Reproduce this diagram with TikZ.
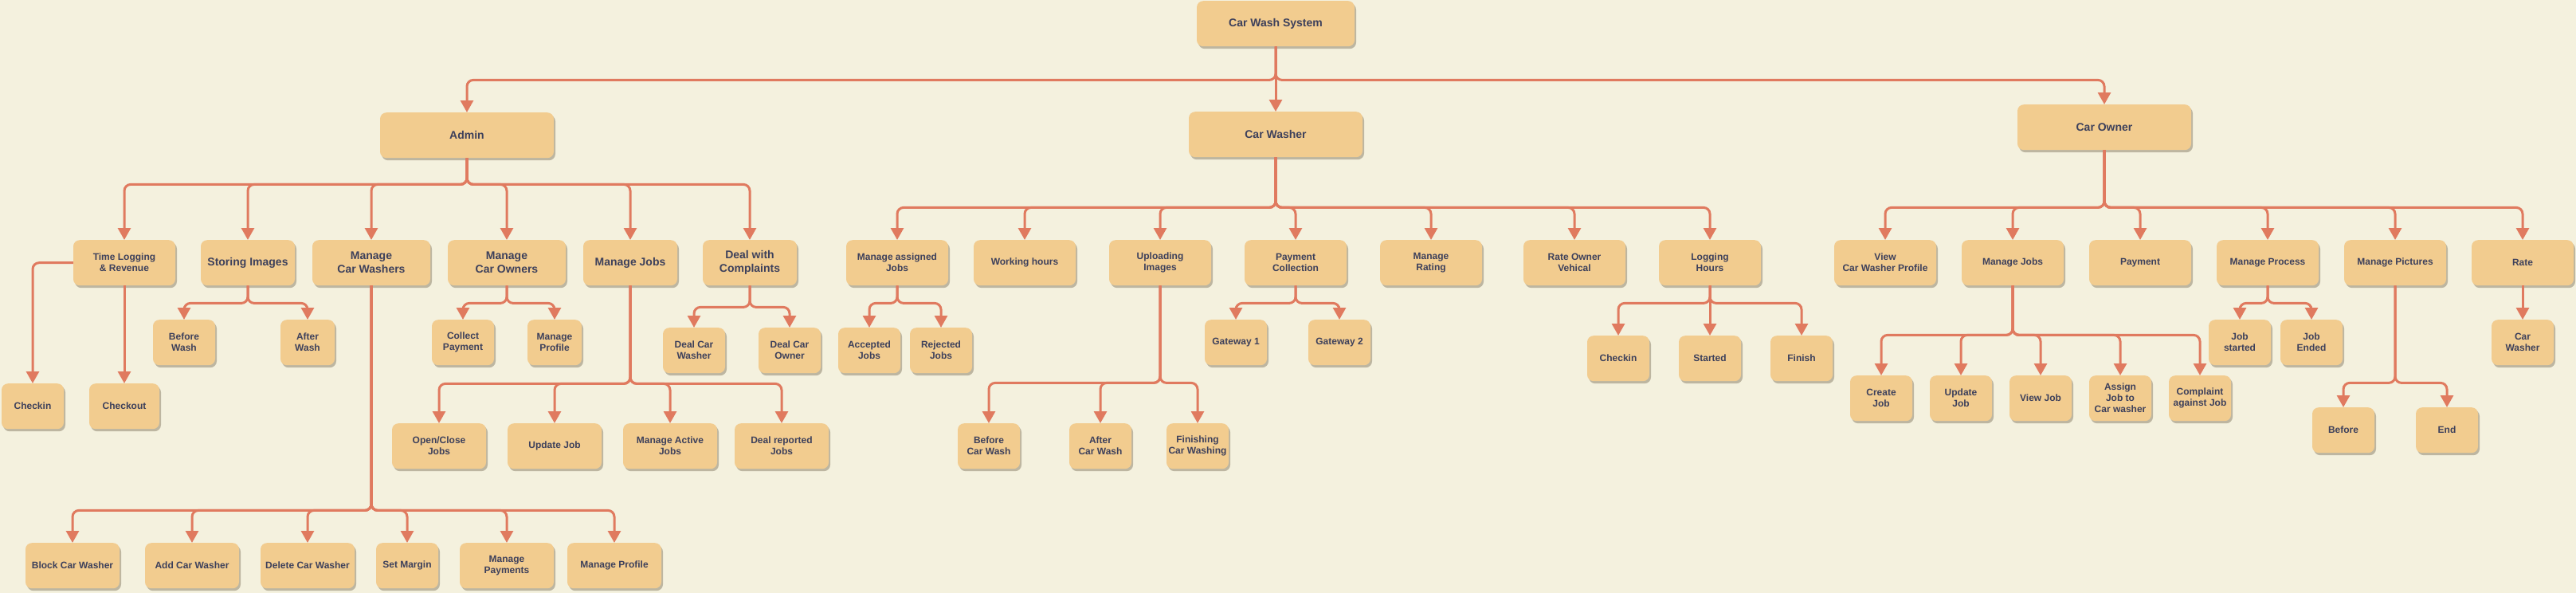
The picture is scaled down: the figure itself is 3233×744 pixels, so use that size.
\documentclass[tikz,border=0pt]{standalone}
\usepackage{fontspec}
\setmainfont{Liberation Sans}
\usetikzlibrary{arrows.meta,shadows}
\definecolor{bgc}{HTML}{F4F1DE}
\definecolor{boxc}{HTML}{F2CC8F}
\definecolor{linec}{HTML}{E07A5F}
\definecolor{txtc}{HTML}{3D405B}
\definecolor{shadowc}{HTML}{BDB6A1}
\begin{document}
\begin{tikzpicture}[x=1pt,y=-1pt,inner sep=2pt,
boxbase/.style={rectangle,rounded corners=8pt,fill=boxc,text=txtc,align=center,anchor=north,minimum height=57pt,
  drop shadow={shadow xshift=2pt,shadow yshift=-3pt,fill=shadowc,opacity=1}},
leafbox/.style={boxbase,minimum width=#1,font=\bfseries\fontsize{12}{14}\selectfont},
leafbox/.default=78pt,
headbox/.style={boxbase,minimum width=#1,font=\bfseries\fontsize{14}{17}\selectfont},
conn/.style={draw=linec,line width=3pt,rounded corners=8pt,-{Triangle[width=16pt,length=15pt]}}]
\fill[bgc] (0,0) rectangle (3233,744);
\useasboundingbox (0,0) rectangle (3233,744);
% top level
\draw (1601,1) node[headbox=198pt] (cws) {Car Wash System};
\draw (586,141) node[headbox=218pt] (adm) {Admin};
\draw (1601,140) node[headbox=218pt] (cw) {Car Washer};
\draw (2641,131) node[headbox=218pt] (cow) {Car Owner};
% admin branch
\draw (156,301) node[leafbox=128pt] (tl) {Time Logging\\\& Revenue};
\draw (311,301) node[headbox=118pt] (si) {Storing Images};
\draw (466,301) node[headbox=148pt] (mcw) {Manage\\Car Washers};
\draw (636,301) node[headbox=148pt] (mco) {Manage\\Car Owners};
\draw (791,301) node[headbox=118pt] (mj) {Manage Jobs};
\draw (941,301) node[headbox=118pt] (dwc) {Deal with\\Complaints};
\draw (41,481) node[leafbox] (ci) {Checkin};
\draw (156,481) node[leafbox=88pt] (cko) {Checkout};
\draw (231,401) node[leafbox] (bw) {Before\\Wash};
\draw (386,401) node[leafbox=68pt] (aw) {After\\Wash};
\draw (581,401) node[leafbox] (cp) {Collect\\Payment};
\draw (696,401) node[leafbox=68pt] (mpf) {Manage\\Profile};
\draw (871,411) node[leafbox] (dcw) {Deal Car\\Washer};
\draw (991,411) node[leafbox] (dco) {Deal Car\\Owner};
\draw (551,531) node[leafbox=118pt] (ocj) {Open/Close\\Jobs};
\draw (696,531) node[leafbox=118pt] (uj) {Update Job};
\draw (841,531) node[leafbox=118pt] (maj) {Manage Active\\Jobs};
\draw (981,531) node[leafbox=118pt] (drj) {Deal reported\\Jobs};
\draw (91,681) node[leafbox=118pt] (bcw) {Block Car Washer};
\draw (241,681) node[leafbox=118pt] (acw) {Add Car Washer};
\draw (386,681) node[leafbox=118pt] (dlcw) {Delete Car Washer};
\draw (511,681) node[leafbox] (sm) {Set Margin};
\draw (636,681) node[leafbox=118pt] (mpay) {Manage\\Payments};
\draw (771,681) node[leafbox=118pt] (mprof) {Manage Profile};
% car washer branch
\draw (1126,301) node[leafbox=128pt] (masj) {Manage assigned\\Jobs};
\draw (1286,301) node[leafbox=128pt] (wh) {Working hours};
\draw (1456,301) node[leafbox=128pt] (ui) {Uploading\\Images};
\draw (1626,301) node[leafbox=128pt] (pc) {Payment\\Collection};
\draw (1796,301) node[leafbox=128pt] (mr) {Manage\\Rating};
\draw (1976,301) node[leafbox=128pt] (rov) {Rate Owner\\Vehical};
\draw (2146,301) node[leafbox=128pt] (lh) {Logging\\Hours};
\draw (1091,411) node[leafbox] (acj) {Accepted\\Jobs};
\draw (1181,411) node[leafbox] (rjj) {Rejected\\Jobs};
\draw (1241,531) node[leafbox] (bcwash) {Before\\Car Wash};
\draw (1381,531) node[leafbox] (acwash) {After\\Car Wash};
\draw (1503,531) node[leafbox] (fcw) {Finishing\\Car Washing};
\draw (1551,401) node[leafbox] (gw1) {Gateway 1};
\draw (1681,401) node[leafbox] (gw2) {Gateway 2};
\draw (2031,421) node[leafbox] (lci) {Checkin};
\draw (2146,421) node[leafbox] (lst) {Started};
\draw (2261,421) node[leafbox] (lfi) {Finish};
% car owner branch
\draw (2366,301) node[leafbox=128pt] (vcw) {View\\Car Washer Profile};
\draw (2526,301) node[leafbox=128pt] (omj) {Manage Jobs};
\draw (2686,301) node[leafbox=128pt] (opay) {Payment};
\draw (2846,301) node[leafbox=128pt] (mproc) {Manage Process};
\draw (3006,301) node[leafbox=128pt] (mpic) {Manage Pictures};
\draw (3166,301) node[leafbox=128pt] (rate) {Rate};
\draw (2361,471) node[leafbox] (cj) {Create\\Job};
\draw (2461,471) node[leafbox] (upj) {Update\\Job};
\draw (2561,471) node[leafbox] (vj) {View Job};
\draw (2661,471) node[leafbox] (asj) {Assign\\Job to\\Car washer};
\draw (2761,471) node[leafbox] (caj) {Complaint\\against Job};
\draw (2811,401) node[leafbox] (js) {Job\\started};
\draw (2901,401) node[leafbox] (je) {Job\\Ended};
\draw (2941,511) node[leafbox] (bef) {Before};
\draw (3071,511) node[leafbox] (endn) {End};
\draw (3166,401) node[leafbox] (rcw) {Car\\Washer};
% connectors
\draw[conn] (cws.south) -- (cw.north);
\foreach \n in {adm,cow} \draw[conn] (cws.south) -- ++(0,42) -| (\n.north);
\foreach \n in {tl,si,mcw,mco,mj,dwc} \draw[conn] (adm.south) -- ++(0,33) -| (\n.north);
\draw[conn] (tl.west) -| (ci.north);
\draw[conn] (tl.south) -- (cko.north);
\foreach \n in {bw,aw} \draw[conn] (si.south) -- ++(0,22) -| (\n.north);
\foreach \n in {cp,mpf} \draw[conn] (mco.south) -- ++(0,22) -| (\n.north);
\foreach \n in {dcw,dco} \draw[conn] (dwc.south) -- ++(0,27) -| (\n.north);
\foreach \n in {ocj,uj,maj,drj} \draw[conn] (mj.south) -- ++(0,123) -| (\n.north);
\foreach \n in {bcw,acw,dlcw,sm,mpay,mprof} \draw[conn] (mcw.south) -- ++(0,282) -| (\n.north);
\foreach \n in {masj,wh,ui,pc,mr,rov,lh} \draw[conn] (cw.south) -- ++(0,63) -| (\n.north);
\foreach \n in {acj,rjj} \draw[conn] (masj.south) -- ++(0,22) -| (\n.north);
\foreach \n in {bcwash,acwash,fcw} \draw[conn] (ui.south) -- ++(0,122) -| (\n.north);
\foreach \n in {gw1,gw2} \draw[conn] (pc.south) -- ++(0,22) -| (\n.north);
\foreach \n in {lci,lfi} \draw[conn] (lh.south) -- ++(0,22) -| (\n.north);
\draw[conn] (lh.south) -- (lst.north);
\foreach \n in {vcw,omj,opay,mproc,mpic,rate} \draw[conn] (cow.south) -- ++(0,72) -| (\n.north);
\foreach \n in {cj,upj,vj,asj,caj} \draw[conn] (omj.south) -- ++(0,62) -| (\n.north);
\foreach \n in {js,je} \draw[conn] (mproc.south) -- ++(0,22) -| (\n.north);
\foreach \n in {bef,endn} \draw[conn] (mpic.south) -- ++(0,122) -| (\n.north);
\draw[conn] (rate.south) -- (rcw.north);
\end{tikzpicture}
\end{document}
